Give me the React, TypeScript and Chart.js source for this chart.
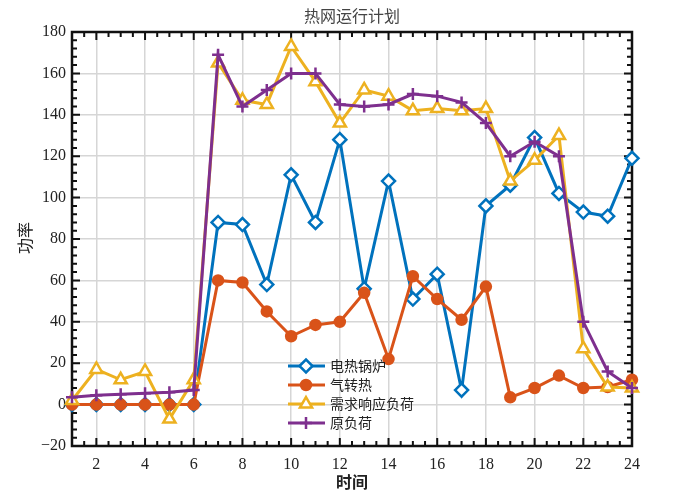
import { useEffect, useRef } from 'react';
import { Chart, registerables } from 'chart.js';
import { drawPoint } from 'chart.js/helpers';

Chart.register(...registerables);

// 时间 1..24
const hours = [1, 2, 3, 4, 5, 6, 7, 8, 9, 10, 11, 12, 13, 14, 15, 16, 17, 18, 19, 20, 21, 22, 23, 24];
const boiler = [0, 0, 0, 0, 0, 0, 88, 87, 58, 111, 88, 128, 56, 108, 51, 63, 7, 96, 106, 129, 102, 93, 91, 119];
const gasHeat = [0, 0, 0, 0, 0, 0, 60, 59, 45, 33, 38.5, 40, 54, 22, 62, 51, 41, 57, 3.5, 8, 14, 8, 8.5, 12];
const demandResp = [2, 17, 12, 16, -7, 12, 165, 147, 145, 173, 156, 136, 152, 149, 142, 143, 142, 143, 108, 118, 130, 27, 8.5, 8];
const originalLoad = [3.5, 4.5, 5, 5.5, 6, 7, 169, 144, 152, 160, 160, 145, 144, 145, 150, 149, 146, 136, 120, 127, 120, 40, 16, 8];

const xTicks = [2, 4, 6, 8, 10, 12, 14, 16, 18, 20, 22, 24];
const yTicks = [-20, 0, 20, 40, 60, 80, 100, 120, 140, 160, 180];

const seriesNames = ['电热锅炉', '气转热', '需求响应负荷', '原负荷'];
const seriesData = [boiler, gasHeat, demandResp, originalLoad];
const colors = ['#0072BD', '#D95319', '#EDB120', '#7E2F8E'];
const markers = [
    { pointStyle: 'rectRot', radius: 6.5, fill: '#ffffff' },
    { pointStyle: 'circle', radius: 5, fill: '#D95319' },
    { pointStyle: 'triangle', radius: 7, fill: '#ffffff' },
    { pointStyle: 'cross', radius: 6, fill: '#7E2F8E' },
];

const serif = '"Liberation Serif", "Noto Sans CJK SC", serif';

const framePlugin = {
    id: 'frame',
    beforeDatasetsDraw(chart: any) {
        const { ctx, chartArea: a, scales } = chart;
        const x = scales.x;
        const y = scales.y;
        ctx.save();
        ctx.strokeStyle = '#111';
        ctx.lineWidth = 2;
        ctx.beginPath();
        // x ticks, minor every 0.5
        for (let v = 1; v <= 24; v += 0.5) {
            const px = x.getPixelForValue(v);
            const len = v % 2 === 0 ? 8 : 5;
            ctx.moveTo(px, a.bottom);
            ctx.lineTo(px, a.bottom - len);
            ctx.moveTo(px, a.top);
            ctx.lineTo(px, a.top + len);
        }
        // y ticks, minor every 4
        for (let v = -20; v <= 180; v += 4) {
            const py = y.getPixelForValue(v);
            const len = v % 20 === 0 ? 8 : 5;
            ctx.moveTo(a.left, py);
            ctx.lineTo(a.left + len, py);
            ctx.moveTo(a.right, py);
            ctx.lineTo(a.right - len, py);
        }
        ctx.stroke();
        ctx.lineWidth = 2.5;
        ctx.strokeRect(a.left, a.top, a.right - a.left, a.bottom - a.top);
        ctx.restore();
    },
    afterDatasetsDraw(chart: any) {
        const { ctx } = chart;
        ctx.save();
        // legend, no box
        seriesNames.forEach((name, i) => {
            const ry = 366 + i * 19;
            ctx.strokeStyle = colors[i];
            ctx.lineWidth = 3;
            ctx.beginPath();
            ctx.moveTo(288, ry);
            ctx.lineTo(325, ry);
            ctx.stroke();
            ctx.fillStyle = markers[i].fill;
            ctx.lineWidth = 2.5;
            drawPoint(ctx, { pointStyle: markers[i].pointStyle as any, radius: markers[i].radius, rotation: 0, borderWidth: 2.5 }, 306, ry);
            ctx.fillStyle = '#222';
            ctx.font = `14px ${serif}`;
            ctx.textAlign = 'left';
            ctx.textBaseline = 'middle';
            ctx.fillText(name, 330, ry + 1);
        });
        // titles
        ctx.fillStyle = '#444';
        ctx.font = `16px ${serif}`;
        ctx.textAlign = 'center';
        ctx.fillText('热网运行计划', 352, 18);
        ctx.fillStyle = '#222';
        ctx.font = `bold 16px ${serif}`;
        ctx.fillText('时间', 352, 484);
        ctx.translate(27, 238);
        ctx.rotate(-Math.PI / 2);
        ctx.font = `16px ${serif}`;
        ctx.fillText('功率', 0, 0);
        ctx.restore();
    },
};

const App = () => {
    const canvasRef = useRef<HTMLCanvasElement>(null);

    useEffect(() => {
        if (!canvasRef.current) return;
        const chart = new Chart(canvasRef.current, {
            type: 'line',
            data: {
                datasets: seriesNames.map((name, i) => ({
                    label: name,
                    data: hours.map((h, k) => ({ x: h, y: seriesData[i][k] })),
                    borderColor: colors[i],
                    borderWidth: 3,
                    tension: 0,
                    pointStyle: markers[i].pointStyle as any,
                    pointRadius: markers[i].radius,
                    pointBorderWidth: 2.5,
                    pointBorderColor: colors[i],
                    pointBackgroundColor: markers[i].fill,
                    clip: false as any,
                    order: 4 - i,
                })),
            },
            options: {
                animation: false,
                responsive: true,
                maintainAspectRatio: false,
                layout: { padding: { left: 0, top: 32, right: 65, bottom: 0 } },
                plugins: { legend: { display: false }, tooltip: { enabled: false } },
                scales: {
                    x: {
                        type: 'linear',
                        min: 1,
                        max: 24,
                        afterBuildTicks: (s: any) => {
                            s.ticks = xTicks.map((value) => ({ value }));
                        },
                        afterFit: (s: any) => {
                            s.height = 53;
                        },
                        border: { display: false },
                        grid: { color: '#d6d6d6', lineWidth: 1.5, drawTicks: false },
                        ticks: { padding: 9, color: '#222', font: { family: serif, size: 16 }, maxRotation: 0, autoSkip: false },
                    },
                    y: {
                        type: 'linear',
                        min: -20,
                        max: 180,
                        afterBuildTicks: (s: any) => {
                            s.ticks = yTicks.map((value) => ({ value }));
                        },
                        afterFit: (s: any) => {
                            s.width = 72;
                        },
                        border: { display: false },
                        grid: { color: '#d6d6d6', lineWidth: 1.5, drawTicks: false },
                        ticks: {
                            padding: 6,
                            color: '#222',
                            font: { family: serif, size: 16 },
                            autoSkip: false,
                            callback: (v: any) => (v < 0 ? '\u2212' + Math.abs(v) : String(v)),
                        },
                    },
                },
            },
            plugins: [framePlugin],
        });
        return () => chart.destroy();
    }, []);

    return (
        <div style={{ position: 'fixed', left: 0, top: 0, width: 697, height: 499, background: '#fff' }}>
            <canvas ref={canvasRef}></canvas>
        </div>
    );
};

export default App;
